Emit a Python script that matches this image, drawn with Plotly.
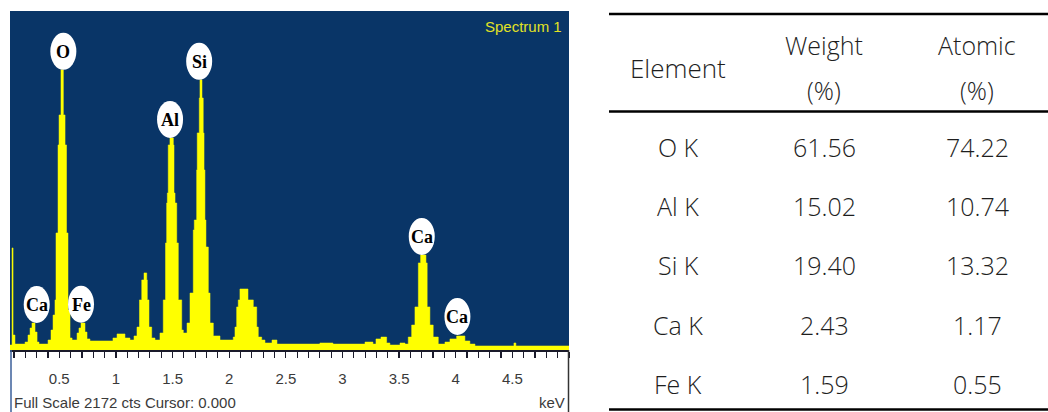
import plotly.graph_objects as go

# ---------------- data ----------------
# EDS spectrum: step edges (keV) and counts for each step
kev = [0.065,0.083,0.092,0.109,0.198,0.224,0.242,0.259,0.286,0.304,
       0.321,0.401,0.427,0.445,0.462,0.471,0.489,0.498,0.515,0.536,
       0.551,0.564,0.577,0.595,0.613,0.657,0.674,0.692,0.727,0.745,
       0.771,0.974,1.010,1.080,1.124,1.160,1.186,1.208,1.228,1.248,
       1.272,1.277,1.292,1.316,1.345,1.389,1.418,1.438,1.448,1.454,
       1.462,1.477,1.507,1.513,1.522,1.537,1.551,1.581,1.595,1.628,
       1.654,1.683,1.692,1.713,1.718,1.736,1.742,1.760,1.771,1.778,
       1.786,1.795,1.816,1.831,1.860,1.919,2.036,2.051,2.066,2.080,
       2.095,2.166,2.213,2.243,2.257,2.287,2.316,2.378,2.422,2.801,
       2.916,3.199,3.269,3.296,3.340,3.390,3.419,3.508,3.552,3.581,
       3.611,3.640,3.670,3.690,3.737,3.748,3.772,3.801,3.846,3.905,
       3.949,4.008,4.081,4.125,4.170,4.514,4.531]
counts = [32,654,96,38,51,96,141,173,115,51,
          38,64,128,224,321,750,1314,1506,1795,1506,
          1314,750,256,77,64,109,141,173,115,71,
          58,77,103,77,64,90,147,321,449,494,
          449,321,147,77,64,109,321,686,942,1006,
          1314,1359,1314,1006,942,686,321,128,109,173,
          365,769,833,1154,1391,1615,1731,1615,1391,1154,
          833,660,365,173,90,64,83,147,276,321,
          391,321,276,147,83,64,45,64,38,45,
          38,51,38,71,83,45,32,45,38,83,
          160,276,558,609,558,276,160,83,38,51,
          71,90,58,38,26,45,26]
kev_end = 5.0
full_scale = 2172

peak_labels = ["O", "Si", "Al", "Ca", "Fe", "Ca", "Ca"]
peak_kev = [0.536, 1.735, 1.478, 0.301, 0.692, 3.700, 4.015]
peak_cts = [1795, 1731, 1359, 173, 175, 609, 96]

tick_vals = [0.5, 1, 1.5, 2, 2.5, 3, 3.5, 4, 4.5]
tick_text = ["0.5", "1", "1.5", "2", "2.5", "3", "3.5", "4", "4.5"]

elements = ["O K", "Al K", "Si K", "Ca K", "Fe K"]
weight = ["61.56", "15.02", "19.40", "2.43", "1.59"]
atomic = ["74.22", "10.74", "13.32", "1.17", "0.55"]

assert len(kev) == len(counts)

# ---------------- figure ----------------
W, H = 1048, 412
def px(x):
    return x / W
def py(y):
    return 1 - y / H

BLUE = "#093567"
YEL = "#ffff00"

fig = go.Figure()
fig.add_trace(go.Scatter(
    x=kev + [kev_end], y=counts + [counts[-1]],
    mode="lines", line=dict(shape="hv", color=YEL, width=0.5),
    fill="tozeroy", fillcolor=YEL, hoverinfo="skip", showlegend=False))

shapes = []
annotations = []

# peak labels: white ellipses with element symbol
for t, k, c in zip(peak_labels, peak_kev, peak_cts):
    shapes.append(dict(type="circle", xref="x", yref="y",
                       xsizemode="pixel", ysizemode="pixel",
                       xanchor=k, yanchor=c,
                       x0=-13, x1=13, y0=0, y1=37,
                       fillcolor="white", line=dict(color="white", width=0),
                       layer="above"))
    annotations.append(dict(x=k, y=c, xref="x", yref="y", text=t,
                            showarrow=False, yshift=18, yanchor="middle",
                            xanchor="center",
                            font=dict(family="Liberation Serif", size=18,
                                      color="black", weight="bold")))

def ptext(x, y, text, font, xanchor="center"):
    annotations.append(dict(x=px(x), y=py(y), xref="paper", yref="paper",
                            text=text, showarrow=False, xanchor=xanchor,
                            yanchor="middle", font=font))

ptext(564, 27, "Spectrum 1",
      dict(family="Liberation Sans", size=15, color="#e2e224"), "right")
ptext(12, 402, "Full Scale 2172 cts Cursor: 0.000",
      dict(family="Liberation Sans", size=15, color="#3a3a3a"), "left")
ptext(567, 402, "keV",
      dict(family="Liberation Sans", size=15, color="#3a3a3a"), "right")

# frame lines under the spectrum panel
shapes.append(dict(type="line", xref="paper", yref="paper",
                   x0=px(11), x1=px(11), y0=py(350), y1=py(412),
                   line=dict(color="#3b5f9a", width=1.5)))
shapes.append(dict(type="line", xref="paper", yref="paper",
                   x0=px(568.5), x1=px(568.5), y0=py(350), y1=py(412),
                   line=dict(color="#333333", width=1.5)))

# ---------------- table ----------------
TF = dict(family="Open Sans", size=25, color="#1e1e1e", weight=300)
col_x = [678, 824, 977]
for yl in [14, 111.5, 409.5]:
    shapes.append(dict(type="line", xref="paper", yref="paper",
                       x0=px(609), x1=1, y0=py(yl), y1=py(yl),
                       line=dict(color="black", width=2.5)))
ptext(col_x[0], 68, "Element", dict(TF, size=26))
ptext(col_x[1], 45, "Weight", TF)
ptext(col_x[1], 90, "(%)", TF)
ptext(col_x[2], 45, "Atomic", TF)
ptext(col_x[2], 90, "(%)", TF)
row_y = [147, 206, 265, 325, 384]
for e, w, a, ry in zip(elements, weight, atomic, row_y):
    for txt, cx in zip([e, w, a], col_x):
        ptext(cx, ry, txt, TF)

fig.update_layout(
    width=W, height=H,
    margin=dict(l=0, r=0, t=0, b=0),
    paper_bgcolor="white",
    plot_bgcolor=BLUE,
    showlegend=False,
    shapes=shapes,
    annotations=annotations,
    xaxis=dict(domain=[px(10), px(569)], range=[0.065, 5.0],
               showgrid=False, zeroline=False,
               showline=True, linecolor="#1a1a2a", linewidth=2,
               ticks="outside", ticklen=6, tickwidth=1.2, tickcolor="#1a1a2a",
               tickvals=tick_vals, ticktext=tick_text,
               ticklabelstandoff=8,
               tickfont=dict(family="Liberation Sans", size=15, color="#3a3a3a"),
               minor=dict(dtick=0.1, tick0=0, ticks="outside", ticklen=6,
                          tickwidth=1.2, tickcolor="#1a1a2a", showgrid=False),
               fixedrange=True),
    yaxis=dict(domain=[py(350), py(11)], range=[0, full_scale],
               visible=False, showgrid=False, zeroline=False, fixedrange=True),
)

fig.write_html("out.html",
               config={"displayModeBar": False, "staticPlot": True},
               post_script="document.body.style.margin='0';document.body.style.padding='0';")
